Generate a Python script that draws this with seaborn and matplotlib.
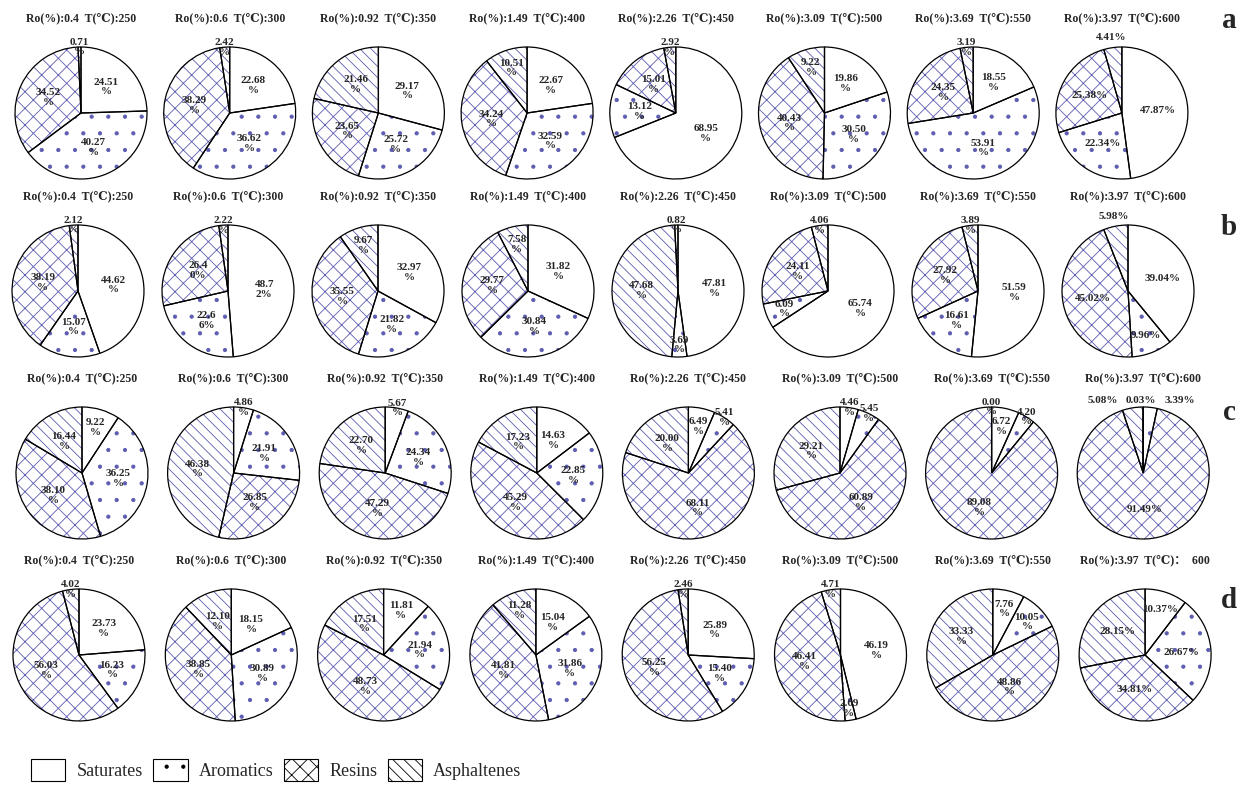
# SARA group composition pies (rows a-d, 8 maturity stages each)
import seaborn as sns
import matplotlib.pyplot as plt
from matplotlib.patches import Patch
import numpy as np

ro_values = ['0.4', '0.6', '0.92', '1.49', '2.26', '3.09', '3.69', '3.97']
temps = [250, 300, 350, 400, 450, 500, 550, 600]
panel_letters = ['a', 'b', 'c', 'd']
fractions = ['Saturates', 'Aromatics', 'Resins', 'Asphaltenes']

saturates_a = [24.51, 22.68, 29.17, 22.67, 68.95, 19.86, 18.55, 47.87]
aromatics_a = [40.27, 36.62, 25.72, 32.59, 13.12, 30.50, 53.91, 22.34]
resins_a = [34.52, 38.29, 23.65, 34.24, 15.01, 40.43, 24.35, 25.38]
asphaltenes_a = [0.71, 2.42, 21.46, 10.51, 2.92, 9.22, 3.19, 4.41]

saturates_b = [44.62, 48.72, 32.97, 31.82, 47.81, 65.74, 51.59, 39.04]
aromatics_b = [15.07, 22.66, 21.82, 30.84, 3.69, 6.09, 16.61, 9.96]
resins_b = [38.19, 26.40, 35.55, 29.77, 47.68, 24.11, 27.92, 45.02]
asphaltenes_b = [2.12, 2.22, 9.67, 7.58, 0.82, 4.06, 3.89, 5.98]

saturates_c = [9.22, 4.86, 5.67, 14.63, 6.49, 4.46, 6.72, 0.03]
aromatics_c = [36.25, 21.91, 24.34, 22.85, 5.41, 5.45, 4.20, 3.39]
resins_c = [38.10, 26.85, 47.29, 45.29, 68.11, 60.89, 89.08, 91.49]
asphaltenes_c = [16.44, 46.38, 22.70, 17.23, 20.00, 29.21, 0.00, 5.08]

saturates_d = [23.73, 18.15, 11.81, 15.04, 25.89, 46.19, 7.76, 10.37]
aromatics_d = [16.23, 30.89, 21.94, 31.86, 15.40, 2.69, 10.05, 26.67]
resins_d = [56.03, 38.85, 48.73, 41.81, 56.25, 46.41, 48.86, 34.81]
asphaltenes_d = [4.02, 12.10, 17.51, 11.28, 2.46, 4.71, 33.33, 28.15]

rows = [
    (saturates_a, aromatics_a, resins_a, asphaltenes_a),
    (saturates_b, aromatics_b, resins_b, asphaltenes_b),
    (saturates_c, aromatics_c, resins_c, asphaltenes_c),
    (saturates_d, aromatics_d, resins_d, asphaltenes_d),
]

sns.set_theme(style='white')
plt.rcParams['font.family'] = ['Liberation Serif', 'DejaVu Serif', 'Noto Sans CJK SC']
plt.rcParams['hatch.linewidth'] = 0.6

W, H = 1243, 800
fig = plt.figure(figsize=(W / 100, H / 100), dpi=100)

# layout in pixels
row_y = [113, 291, 473, 655]
row_x0 = [81, 78, 82, 79]
row_dx = [148.7, 150.0, 151.6, 152.3]
R = 66
hatch_col = '#5c5cb0'
pie_hatches = ['', '.', 'xx', '\\\\\\']
# the 47.68 slice in b (450 C) is drawn with the diagonal pattern in the original
hatch_override = {(1, 4): ['', '.', '\\\\\\', '.']}
label_style = {(1, 1): 'split', (0, 7): 'inline', (1, 7): 'inline',
               (2, 7): 'inline', (3, 7): 'inline'}
label_pos_override = {(2, 7): {0: (-0.03, 1.1), 1: (0.56, 1.1), 3: (-0.62, 1.1)}}


def make_label(v, style):
    s = f'{v:.2f}'
    if style == 'inline':
        return s + '%'
    if style == 'split':
        return s[:4] + '\n' + s[4:] + '%'
    return s + '\n%'


for r, series in enumerate(rows):
    for c in range(8):
        vals = [s[c] for s in series]
        cx = row_x0[r] + row_dx[r] * c
        cy = row_y[r]
        ax = fig.add_axes([(cx - R) / W, 1 - (cy + R) / H, 2 * R / W, 2 * R / H])
        hl = hatch_override.get((r, c), pie_hatches)
        wedges, _ = ax.pie(vals, startangle=90, counterclock=False, radius=1,
                           colors=['white'] * 4, hatch=hl,
                           wedgeprops=dict(edgecolor=hatch_col, linewidth=0))
        ax.pie(vals, startangle=90, counterclock=False, radius=1,
               colors=['none'] * 4,
               wedgeprops=dict(edgecolor='black', linewidth=0.9))
        ax.set_xlim(-1, 1)
        ax.set_ylim(-1, 1)
        ax.set_aspect('equal')
        ax.axis('off')

        style = label_style.get((r, c), 'nl')
        over = label_pos_override.get((r, c), {})
        for i, (w, v) in enumerate(zip(wedges, vals)):
            mid = np.deg2rad((w.theta1 + w.theta2) / 2)
            if v < 6:
                if np.sin(mid) > 0:
                    d = 1.15 if style == 'inline' else 1.0
                else:
                    d = 0.82
            elif v < 12:
                d = 0.72
            else:
                d = 0.55
            x, y = d * np.cos(mid), d * np.sin(mid)
            if i in over:
                x, y = over[i]
            ax.text(x, y, make_label(v, style), ha='center', va='center',
                    fontsize=8, fontweight='bold', linespacing=1.1,
                    clip_on=False)

        t_sep = '：  ' if (r == 3 and c == 7) else ':'
        title = f'Ro(%):{ro_values[c]}  T(℃){t_sep}{temps[c]}'
        ax.text(0, 1.42, title, ha='center', va='center', fontsize=8.5,
                fontweight='bold', clip_on=False)

letter_y = [20, 228, 413, 600]
for lt, ly in zip(panel_letters, letter_y):
    fig.text(1229 / W, 1 - ly / H, lt, ha='center', va='center',
             fontsize=21, fontweight='bold')

legend_hatches = ['', '.', 'xx', '\\\\\\']
handles = [Patch(facecolor='white', edgecolor='black', hatch=h, linewidth=0.8, label=f)
           for h, f in zip(legend_hatches, fractions)]
fig.legend(handles=handles, loc='center left', bbox_to_anchor=(0.012, 1 - 770 / H),
           ncol=4, frameon=False, fontsize=13, handlelength=1.9, handleheight=1.5,
           handletextpad=0.6, columnspacing=0.6)

fig.savefig('out.png', dpi=100, facecolor='white')
